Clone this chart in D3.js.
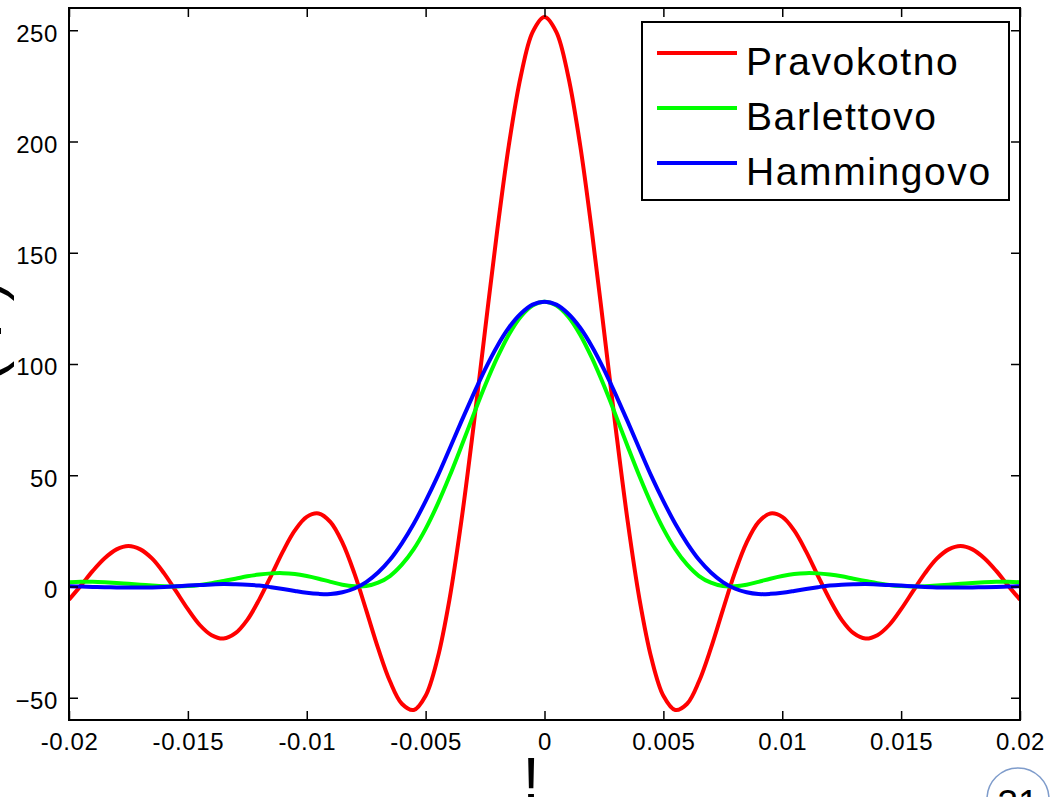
<!DOCTYPE html>
<html>
<head>
<meta charset="utf-8">
<script src="https://cdn.jsdelivr.net/npm/d3@7"></script>
<style>
    body { margin: 0; background: #fff; }
    svg { display: block; font-family: "Liberation Sans", Arial, sans-serif; }
</style>
</head>
<body>
<div id="chart"></div>
<script>
// frequency samples (x axis)
var freq = [-0.02, -0.0195, -0.019, -0.0185, -0.018, -0.0175, -0.017, -0.0165, -0.016, -0.0155,
    -0.015, -0.0145, -0.014, -0.0135, -0.013, -0.0125, -0.012, -0.0115, -0.011, -0.0105,
    -0.01, -0.0095, -0.009, -0.0085, -0.008, -0.0075, -0.007, -0.0065, -0.006, -0.0055,
    -0.005, -0.0045, -0.004, -0.0035, -0.003, -0.0025, -0.002, -0.0015, -0.001, -0.0005,
    0,
    0.0005, 0.001, 0.0015, 0.002, 0.0025, 0.003, 0.0035, 0.004, 0.0045, 0.005,
    0.0055, 0.006, 0.0065, 0.007, 0.0075, 0.008, 0.0085, 0.009, 0.0095, 0.01,
    0.0105, 0.011, 0.0115, 0.012, 0.0125, 0.013, 0.0135, 0.014, 0.0145, 0.015,
    0.0155, 0.016, 0.0165, 0.017, 0.0175, 0.018, 0.0185, 0.019, 0.0195, 0.02];

// Pravokotno
var rectValues = [-5.9, 0.4, 7.0, 12.7, 16.7, 18.2, 16.7, 12.5, 5.9, -2.1, -10.2, -17.3, -21.9, -23.4, -21.0, -15.0,
    -5.9, 4.8, 15.8, 25.2, 31.3, 32.8, 28.9, 19.7, 6.0, -10.6, -27.7, -42.6, -52.7, -55.5, -49.1, -32.4,
    -6.0, 29.2, 70.7, 115.2, 159.0, 198.3, 229.2, 249.2,
    256,
    249.2, 229.2, 198.3, 159.0, 115.2, 70.7, 29.2, -6.0, -32.4, -49.1, -55.5, -52.7, -42.6, -27.7, -10.6,
    6.0, 19.7, 28.9, 32.8, 31.3, 25.2, 15.8, 4.8, -5.9, -15.0, -21.0, -23.4, -21.9, -17.3, -10.2, -2.1,
    5.9, 12.5, 16.7, 18.2, 16.7, 12.7, 7.0, 0.4, -5.9];

// Barlettovo
var bartValues = [1.9, 2.1, 2.1, 1.9, 1.6, 1.2, 0.8, 0.4, 0.1, 0.0, 0.2, 0.7, 1.5, 2.5, 3.5, 4.6,
    5.4, 5.9, 6.0, 5.6, 4.7, 3.5, 2.1, 0.8, 0.1, 0.2, 1.7, 4.7, 9.8, 16.8, 25.9, 36.9,
    49.4, 62.9, 76.8, 90.3, 102.6, 113.2, 121.3, 126.3,
    128,
    126.3, 121.3, 113.2, 102.6, 90.3, 76.8, 62.9, 49.4, 36.9, 25.9, 16.8, 9.8, 4.7, 1.7, 0.2,
    0.1, 0.8, 2.1, 3.5, 4.7, 5.6, 6.0, 5.9, 5.4, 4.6, 3.5, 2.5, 1.5, 0.7, 0.2, 0.0,
    0.1, 0.4, 0.8, 1.2, 1.6, 1.9, 2.1, 2.1, 1.9];

// Hammingovo
var hammValues = [0.1, 0.0, -0.2, -0.3, -0.4, -0.5, -0.5, -0.4, -0.2, 0.1, 0.4, 0.7, 0.9, 1.1, 1.0, 0.8,
    0.4, -0.3, -1.1, -2.0, -2.8, -3.3, -3.4, -2.6, -0.9, 2.0, 6.3, 12.0, 19.4, 28.2, 38.4, 49.5,
    61.7, 74.1, 86.1, 97.6, 107.8, 116.3, 122.6, 126.7,
    128,
    126.7, 122.6, 116.3, 107.8, 97.6, 86.1, 74.1, 61.7, 49.5, 38.4, 28.2, 19.4, 12.0, 6.3, 2.0,
    -0.9, -2.6, -3.4, -3.3, -2.8, -2.0, -1.1, -0.3, 0.4, 0.8, 1.0, 1.1, 0.9, 0.7, 0.4, 0.1,
    -0.2, -0.4, -0.5, -0.5, -0.4, -0.3, -0.2, 0.0, 0.1];

var seriesNames = ['Pravokotno', 'Barlettovo', 'Hammingovo'];
var seriesColors = ['#ff0000', '#00ff00', '#0000ff'];

var xTicks = [-0.02, -0.015, -0.01, -0.005, 0, 0.005, 0.01, 0.015, 0.02];
var xTickLabels = ['-0.02', '-0.015', '-0.01', '-0.005', '0', '0.005', '0.01', '0.015', '0.02'];
var yTicks = [-50, 0, 50, 100, 150, 200, 250];

var config = {
    w: 1057,
    h: 797,
    left: 69,
    right: 1020,
    top: 8,
    bottom: 720
};

var svg = d3.select('#chart').append('svg')
    .attr('width', config.w)
    .attr('height', config.h);

var x = d3.scaleLinear().domain([-0.02, 0.02]).range([config.left, config.right]);
var y = d3.scaleLinear().domain([-60, 260]).range([config.bottom, config.top]);

var series = [rectValues, bartValues, hammValues].map(function (vals, i) {
    return {
        name: seriesNames[i],
        color: seriesColors[i],
        points: freq.map(function (f, j) { return [f, vals[j]]; })
    };
});

svg.append('clipPath')
    .attr('id', 'plot-clip')
    .append('rect')
    .attr('x', config.left)
    .attr('y', config.top)
    .attr('width', config.right - config.left)
    .attr('height', config.bottom - config.top);

var line = d3.line()
    .x(function (d) { return x(d[0]); })
    .y(function (d) { return y(d[1]); })
    .curve(d3.curveCatmullRom);

svg.append('g')
    .attr('clip-path', 'url(#plot-clip)')
    .selectAll('path')
    .data(series)
    .join('path')
    .attr('d', function (d) { return line(d.points); })
    .style('fill', 'none')
    .style('stroke', function (d) { return d.color; })
    .style('stroke-width', 4)
    .style('stroke-linejoin', 'round');

// axes - ticks point inwards on all four sides
var tickLen = 9;

var xAxis = svg.append('g')
    .attr('transform', 'translate(0,' + config.bottom + ')')
    .call(d3.axisBottom(x).tickValues(xTicks).tickSize(-tickLen).tickPadding(13)
        .tickFormat(function (d, i) { return xTickLabels[i]; }));

svg.append('g')
    .attr('transform', 'translate(0,' + config.top + ')')
    .call(d3.axisTop(x).tickValues(xTicks).tickSize(-tickLen).tickFormat(''));

var yAxis = svg.append('g')
    .attr('transform', 'translate(' + config.left + ',0)')
    .call(d3.axisLeft(y).tickValues(yTicks).tickSize(-tickLen).tickPadding(11));

svg.append('g')
    .attr('transform', 'translate(' + config.right + ',0)')
    .call(d3.axisRight(y).tickValues(yTicks).tickSize(-tickLen).tickFormat(''));

svg.selectAll('.domain').remove();
svg.selectAll('.tick line').style('stroke', '#000').style('stroke-width', 1.5);

xAxis.selectAll('text')
    .attr('dy', '0.71em')
    .style('font-size', '24px')
    .style('letter-spacing', '0.6px')
    .style('fill', '#000');

yAxis.selectAll('text')
    .attr('dy', '0.45em')
    .style('font-size', '24px')
    .style('letter-spacing', '0.6px')
    .style('fill', '#000');

// box
svg.append('rect')
    .attr('x', config.left)
    .attr('y', config.top)
    .attr('width', config.right - config.left)
    .attr('height', config.bottom - config.top)
    .style('fill', 'none')
    .style('stroke', '#000')
    .style('stroke-width', 2);

// axis labels (symbol font glyphs, partly off the page)
svg.append('text')
    .attr('x', 531)
    .attr('y', 800)
    .style('text-anchor', 'middle')
    .style('font-size', '62px')
    .text('!');

svg.append('text')
    .attr('transform', 'translate(1,330) rotate(-90)')
    .style('text-anchor', 'middle')
    .style('font-size', '62px')
    .style('letter-spacing', '2px')
    .text('( ! )');

// legend
var legend = svg.append('g');

legend.append('rect')
    .attr('x', 642)
    .attr('y', 22)
    .attr('width', 367)
    .attr('height', 178)
    .style('fill', '#fff')
    .style('stroke', '#000')
    .style('stroke-width', 2);

var items = legend.selectAll('.item')
    .data(series)
    .join('g')
    .attr('class', 'item')
    .attr('transform', function (d, i) { return 'translate(0,' + (i * 55) + ')'; });

items.append('line')
    .attr('x1', 657)
    .attr('x2', 737)
    .attr('y1', 53)
    .attr('y2', 53)
    .style('stroke', function (d) { return d.color; })
    .style('stroke-width', 4);

items.append('text')
    .attr('x', 746)
    .attr('y', 75)
    .style('font-size', '39px')
    .style('letter-spacing', '1.6px')
    .text(function (d) { return d.name; });

// slide page number
svg.append('circle')
    .attr('cx', 1018)
    .attr('cy', 799)
    .attr('r', 31)
    .style('fill', 'none')
    .style('stroke', '#7f9ccb')
    .style('stroke-width', 1.5);

svg.append('text')
    .attr('x', 1018)
    .attr('y', 816)
    .style('text-anchor', 'middle')
    .style('font-size', '37px')
    .text('31');
</script>
</body>
</html>
